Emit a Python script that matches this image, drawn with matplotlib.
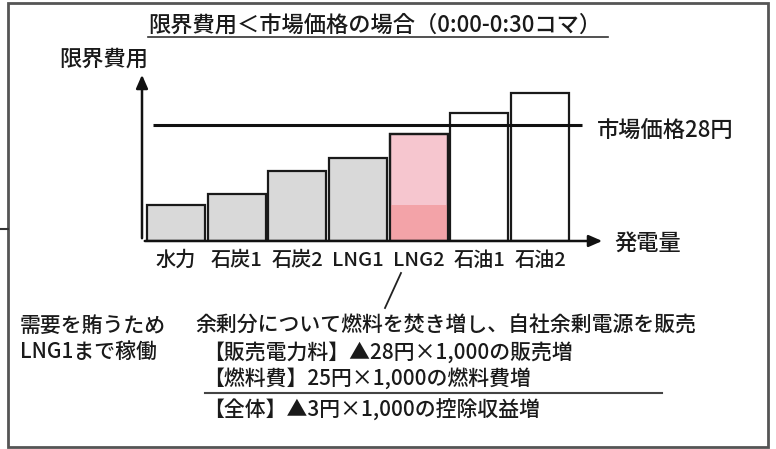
import numpy as np
import matplotlib.pyplot as plt
from matplotlib.patches import Rectangle
from matplotlib.lines import Line2D

plt.rcParams['font.family'] = ['Noto Sans CJK JP', 'DejaVu Sans']

# Data: marginal cost by plant (yen), merit order
plants = ['水力', '石炭1', '石炭2', 'LNG1', 'LNG2', '石油1', '石油2']
costs = [8.7, 11.3, 16.9, 20.0, 25.8, 30.8, 35.6]
fills = ['#d9d9d9', '#d9d9d9', '#d9d9d9', '#d9d9d9', '#f6c6cf', 'white', 'white']
lng2_lower = 8.7   # darker part of the LNG2 bar
market_price = 28

W, H = 776, 449
fig = plt.figure(figsize=(W / 100, H / 100), dpi=100)
fig.patch.set_facecolor('white')
TXT = '#1a1a1a'


def fx(x):
    return x / W


def fy(y):
    return 1 - y / H


# outer frame
fig.add_artist(Rectangle((fx(8), fy(447)), fx(760), (447 - 3) / H, transform=fig.transFigure,
                         fill=False, lw=2, ec='#555555'))
fig.add_artist(Line2D([fx(0), fx(8)], [fy(229), fy(229)], transform=fig.transFigure, lw=1.5, color='#333333'))

# chart axes: x-axis from px 142 to 605, y-axis from px 241 up to 72
x0, x1, y_top, y_base = 142, 605, 72, 241
ax = fig.add_axes([fx(x0), fy(y_base), (x1 - x0) / W, (y_base - y_top) / H])
ax.set_xlim(-0.56, 7.07)
ax.set_ylim(0, 40.7)
for s in ax.spines.values():
    s.set_visible(False)
ax.patch.set_alpha(0)

xs = np.arange(len(plants))
ax.bar(xs, costs, width=0.955, color=fills, edgecolor='#1a1a1a', linewidth=1.6, zorder=2)
ax.bar(xs[4], lng2_lower, width=0.955, color='#f3a3a8', edgecolor='none', zorder=2.5)
ax.bar(xs[4], costs[4], width=0.955, fill=False, edgecolor='#1a1a1a', linewidth=1.6, zorder=3)

ax.hlines(market_price, -0.38, 6.69, color='#111111', lw=2.2, zorder=4)

# axes arrows
ax.annotate('', xy=(1.0, 0), xytext=(0, 0), xycoords='axes fraction',
            arrowprops=dict(arrowstyle='-|>,head_length=0.8,head_width=0.35', lw=1.8, color='#111111'))
ax.annotate('', xy=(0, 1.0), xytext=(0, 0), xycoords='axes fraction',
            arrowprops=dict(arrowstyle='-|>,head_length=0.8,head_width=0.35', lw=1.8, color='#111111'))

ax.set_xticks(xs)
ax.set_xticklabels(plants, fontsize=14.5, color=TXT, fontweight='medium')
ax.tick_params(axis='x', length=0, pad=7)
ax.set_yticks([])

tk = dict(color=TXT, fontweight='medium')

# title with underline
fig.text(fx(148), fy(25), '限界費用＜市場価格の場合（0:00-0:30コマ）', fontsize=16, ha='left', va='center', **tk)
fig.add_artist(Line2D([fx(148), fx(608)], [fy(37), fy(37)], transform=fig.transFigure, lw=1.2, color='#333333'))

fig.text(fx(148), fy(59), '限界費用', fontsize=16, ha='right', va='center', **tk)
fig.text(fx(597), fy(130), '市場価格28円', fontsize=16, ha='left', va='center', **tk)
fig.text(fx(614), fy(243), '発電量', fontsize=16, ha='left', va='center', **tk)

# pointer from LNG2
fig.add_artist(Line2D([fx(401), fx(385)], [fy(273), fy(308)], transform=fig.transFigure, lw=1.3, color='#222222'))

fs = 15
fig.text(fx(20), fy(326), '需要を賄うため', fontsize=fs, ha='left', va='center', **tk)
fig.text(fx(20), fy(352), 'LNG1まで稼働', fontsize=fs, ha='left', va='center', **tk)
fig.text(fx(195), fy(326), '余剰分について燃料を焚き増し、自社余剰電源を販売', fontsize=fs,
         ha='left', va='center', **tk)
fig.text(fx(203), fy(353), '【販売電力料】▲28円×1,000の販売増', fontsize=fs, ha='left', va='center', **tk)
fig.text(fx(203), fy(379), '【燃料費】25円×1,000の燃料費増', fontsize=fs, ha='left', va='center', **tk)
fig.add_artist(Line2D([fx(205), fx(662)], [fy(393), fy(393)], transform=fig.transFigure, lw=1.5, color='#444444'))
fig.text(fx(203), fy(411), '【全体】▲3円×1,000の控除収益増', fontsize=fs, ha='left', va='center', **tk)

fig.savefig('out.png', dpi=100)
